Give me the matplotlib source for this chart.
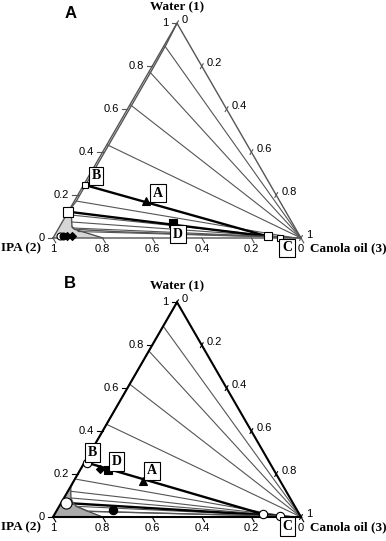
import numpy as np
import matplotlib
matplotlib.use('Agg')
import matplotlib.pyplot as plt

# ternary compositions given as (water, canola) mass fractions, IPA = 1 - water - canola
TICKS = [0, 0.2, 0.4, 0.6, 0.8, 1]

# panel A
a_tie_left_w = [0.894, 0.773, 0.619, 0.433]
a_thin_ties = [((0.172, 0.008), (0.003, 0.96)),
               ((0.107, 0.020), (0.005, 0.92)),
               ((0.0745, 0.039), (0.004, 0.93)),
               ((0.0466, 0.057), (0.003, 0.95)),
               ((0.0302, 0.086), (0.002, 0.96))]
a_bold_ties = [((0.246, 0.008), (0.007, 0.863)),
               ((0.1225, 0.0), (0.007, 0.863))]
a_binodal_w = [1.0, 0.9, 0.77, 0.62, 0.43, 0.25, 0.17, 0.1225, 0.107, 0.0526, 0.0405, 0.0293, 0.0163, 0.007, 0.0]
a_binodal_c = [0.0, 0.006, 0.008, 0.008, 0.008, 0.008, 0.008, 0.0, 0.0203, 0.0503, 0.0672, 0.2475, 0.585, 0.863, 1.0]
a_grey_w = [0.0, 0.1225, 0.107, 0.0526, 0.0405, 0.0]
a_grey_c = [0.0, 0.0, 0.0203, 0.0503, 0.0672, 0.2016]

# panel B
b_tie_left_w = [0.885, 0.77, 0.616, 0.43]
b_thin_ties = [((0.1755, 0.008), (0.004, 0.93)),
               ((0.1197, 0.012), (0.004, 0.94)),
               ((0.0885, 0.028), (0.003, 0.95)),
               ((0.0498, 0.069), (0.003, 0.95)),
               ((0.0265, 0.128), (0.002, 0.96))]
b_bold_ties = [((0.253, 0.01), (0.0126, 0.842)),
               ((0.0652, 0.021), (0.0047, 0.913))]
b_binodal_w = [1.0, 0.6, 0.3, 0.2, 0.16, 0.135, 0.0885, 0.065, 0.0498, 0.0265, 0.014, 0.0047, 0.0]
b_binodal_c = [0.0, 0.0, 0.0, 0.0, 0.0, 0.004, 0.028, 0.048, 0.069, 0.128, 0.55, 0.913, 1.0]
b_grey_w = [0.0, 0.14, 0.135, 0.0885, 0.0498, 0.0265, 0.0]
b_grey_c = [0.0, 0.0, 0.004, 0.028, 0.069, 0.128, 0.2]


def tern(w, c):
    w = np.asarray(w, float)
    c = np.asarray(c, float)
    return c + w / 2, w * np.sqrt(3) / 2


def draw_panel(ax, letter, edge_col, edge_lw, grey, left_w, thin_ties, bold_ties,
               bin_w, bin_c, grey_w, grey_c, markers, labels, ylim):
    ax.set_xlim(-53 / 248, 333 / 248)
    ax.set_ylim(*ylim)
    ax.axis('off')

    gx, gy = tern(grey_w, grey_c)
    ax.fill(gx, gy, color=grey, lw=0, zorder=1)
    ax.plot(gx[-3:], gy[-3:], color='#444444', lw=0.9, zorder=2)

    for w in left_w:
        x, y = tern([w, 0], [0.004, 1])
        ax.plot(x, y, color='#555555', lw=0.8, zorder=2)
    for p, q in thin_ties:
        x, y = tern([p[0], q[0]], [p[1], q[1]])
        ax.plot(x, y, color='#555555', lw=0.8, zorder=2)
    for p, q in bold_ties:
        x, y = tern([p[0], q[0]], [p[1], q[1]])
        ax.plot(x, y, color='black', lw=1.7, zorder=3)

    bx, by = tern(bin_w, bin_c)
    ax.plot(bx, by, color='#555555', lw=1.0, zorder=3)

    # triangle frame
    fx, fy = tern([0, 1, 0, 0], [0, 0, 1, 0])
    ax.plot(fx, fy, color=edge_col, lw=edge_lw, zorder=4, solid_joinstyle='miter')

    d = 0.022
    s = np.sqrt(3) / 2
    for t in TICKS:
        # water (left edge)
        x, y = tern(t, 0)
        ax.plot([x - d, x], [y, y], color=edge_col, lw=0.8, zorder=4)
        ax.text(x - d - 0.012, y, f'{t:g}', ha='right', va='center', fontsize=8,
                family='Liberation Sans')
        # canola (right edge)
        x, y = tern(1 - t, t)
        ax.plot([x - d * 0.25, x + d * 0.25], [y - d * s * 0.5, y + d * s * 0.5],
                color=edge_col, lw=0.8, zorder=4)
        ax.text(x + 0.02, y + 0.012, f'{t:g}', ha='left', va='center', fontsize=8,
                family='Liberation Sans')
        # IPA (bottom edge)
        x, y = tern(0, 1 - t)
        ax.plot([x, x + d * 0.5], [y, y - d * s], color=edge_col, lw=0.8, zorder=4)
        ax.text(x, y - 0.045, f'{t:g}', ha='center', va='center', fontsize=8,
                family='Liberation Sans')

    for w, c, m, fc, ms in markers:
        x, y = tern(w, c)
        ax.plot(x, y, marker=m, ms=ms, mfc=fc, mec='black', mew=0.8, ls='none', zorder=6)

    for txt, w, c in labels:
        x, y = tern(w, c)
        ax.text(x, y, txt, ha='center', va='center', fontsize=10, fontweight='bold',
                family='Liberation Serif', zorder=7,
                bbox=dict(boxstyle='square,pad=0.2', fc='white', ec='black', lw=0.8))

    ax.text(0.5, 0.905, 'Water (1)', ha='center', va='bottom',
            fontsize=9.5, fontweight='bold', family='Liberation Serif')
    ax.text(-0.13, -0.04, 'IPA (2)', ha='center', va='center', fontsize=9.5,
            fontweight='bold', family='Liberation Serif')
    ax.text(1.19, -0.04, 'Canola oil (3)', ha='center', va='center', fontsize=9.5,
            fontweight='bold', family='Liberation Serif')
    ax.text(0.07, ylim[1] - 0.055, letter, ha='center', va='center', fontsize=12,
            fontweight='bold', family='Liberation Sans')


a_markers = [(0.172, 0.291, '^', 'black', 6),
             (0.0712, 0.447, 's', 'black', 5.5),
             (0.246, 0.008, 's', 'white', 5),
             (0.1225, 0.0, 's', 'white', 7),
             (0.007, 0.863, 's', 'white', 6),
             (0.0023, 0.914, 's', 'white', 5),
             (0.0107, 0.0228, 'o', 'white', 5),
             (0.0107, 0.036, 'o', 'black', 5),
             (0.0107, 0.052, 'D', 'black', 4),
             (0.0107, 0.070, 'D', 'black', 4)]
a_labels = [('A', 0.2095, 0.3186), ('B', 0.2887, 0.029), ('D', 0.0186, 0.495), ('C', -0.0465, 0.967)]

b_markers = [(0.169, 0.2796, '^', 'black', 6),
             (0.2188, 0.1136, 's', 'black', 5.5),
             (0.222, 0.0785, 'D', 'black', 4.5),
             (0.0326, 0.2256, 'o', 'black', 6),
             (0.253, 0.01, 'o', 'white', 6),
             (0.0652, 0.021, 'o', 'white', 8),
             (0.0126, 0.842, 'o', 'white', 6),
             (0.0047, 0.913, 'o', 'white', 6)]
b_labels = [('A', 0.2142, 0.291), ('B', 0.2994, 0.0103), ('D', 0.2575, 0.128), ('C', -0.0452, 0.9674)]

fig = plt.figure(figsize=(3.86, 5.41), dpi=100)
ax_a = fig.add_axes([0, 271 / 541, 1, 270 / 541])
ax_b = fig.add_axes([0, 0, 1, 271 / 541])

draw_panel(ax_a, 'A', '#555555', 1.0, '#d6d6d6', a_tie_left_w, a_thin_ties, a_bold_ties,
           a_binodal_w, a_binodal_c, a_grey_w, a_grey_c, a_markers, a_labels,
           (-32 / 248, 238 / 248))
draw_panel(ax_b, 'B', 'black', 1.5, '#ababab', b_tie_left_w, b_thin_ties, b_bold_ties,
           b_binodal_w, b_binodal_c, b_grey_w, b_grey_c, b_markers, b_labels,
           (-24 / 248, 247 / 248))

fig.savefig('out.png', dpi=100)
